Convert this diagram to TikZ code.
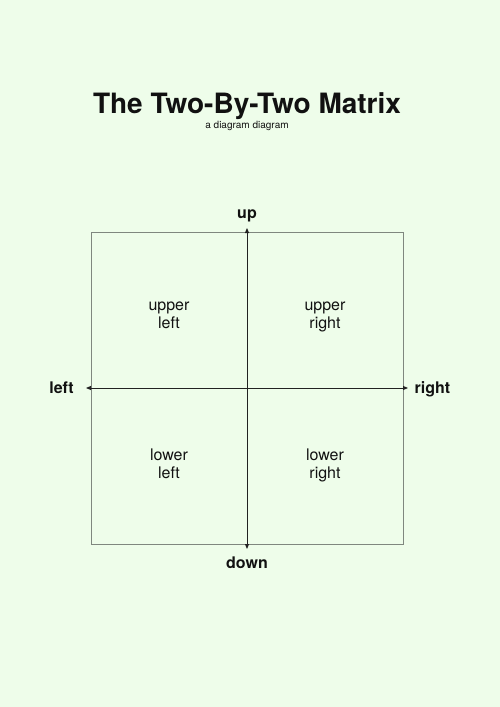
\documentclass[tikz,border=0pt]{standalone}
\usepackage{fontspec}
\setmainfont{TeX Gyre Heros}
\usetikzlibrary{arrows.meta}
\definecolor{bgc}{HTML}{EEFDEA}
\definecolor{boxc}{HTML}{7F877F}
\definecolor{axc}{HTML}{222222}
\definecolor{txt}{HTML}{111111}
\tikzset{
  quad/.style={align=center,anchor=base,text=txt,inner sep=0pt,font=\fontsize{16}{17.7}\selectfont},
  axlabel/.style={anchor=base,text=txt,inner sep=0pt,font=\fontsize{16}{18}\selectfont\bfseries},
  axis/.style={draw=axc,line width=0.9pt,{Triangle[length=5pt,width=4pt]}-{Triangle[length=5pt,width=4pt]}},
  frame/.style={draw=boxc,line width=0.9pt}
}
\begin{document}
\begin{tikzpicture}[x=1pt,y=-1pt]
\fill[bgc] (0,0) rectangle (500,707);
\useasboundingbox (0,0) rectangle (500,707);
\node[anchor=base,inner sep=0pt,text=txt,font=\fontsize{28}{30}\selectfont\bfseries] (title) at (247,113) {The Two-By-Two Matrix};
\node[anchor=base,inner sep=0pt,text=txt,font=\fontsize{10}{12}\selectfont] (subtitle) at (247,128) {a diagram diagram};
\draw[frame] (91,232.5) rectangle (403,544.5);
\coordinate (leftT) at (86,388);
\coordinate (rightT) at (408,388);
\coordinate (upT) at (247,228);
\coordinate (downT) at (247,549);
\draw[axis] (leftT) -- (rightT);
\draw[axis] (upT) -- (downT);
\node[axlabel] (up) at (247,218.5) {up};
\node[axlabel] (down) at (247,568.3) {down};
\node[axlabel] (left) at (61.5,393.5) {left};
\node[axlabel] (right) at (432.5,393.5) {right};
\node[quad] (ul) at (169,328.4) {upper\\left};
\node[quad] (ur) at (325,328.4) {upper\\right};
\node[quad] (ll) at (169,478.4) {lower\\left};
\node[quad] (lr) at (325,478.4) {lower\\right};
\end{tikzpicture}
\end{document}
